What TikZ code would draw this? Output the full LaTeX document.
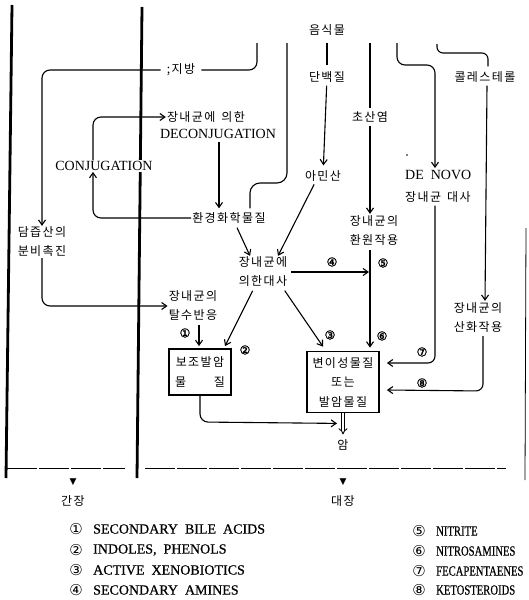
\documentclass[tikz,border=0pt]{standalone}
\usepackage{fontspec}
\setmainfont{Liberation Serif}
\newfontfamily\krf[LetterSpace=12]{Noto Sans CJK KR}
\newfontfamily\symf{DejaVu Sans}
\newfontfamily\symbf[FakeBold=2]{DejaVu Sans}
\newfontfamily\enl[FakeBold=0.6]{Liberation Serif}
\newfontfamily\enc[FakeStretch=0.76,FakeBold=0.6]{Liberation Serif}
\usetikzlibrary{arrows.meta,calc}
\begin{document}
\begin{tikzpicture}[x=1pt,y=-1pt,
  kr/.style={font=\krf\fontsize{12}{19}\selectfont, inner sep=1pt, align=center},
  en/.style={font=\fontsize{14}{16}\selectfont, inner sep=1pt},
  cnum/.style={font=\symbf\fontsize{12}{12}\selectfont, inner sep=0pt},
  lnum/.style={font=\symf\fontsize{15}{15}\selectfont, inner sep=0pt},
  leg/.style={font=\enl\fontsize{14}{16}\selectfont, inner sep=0pt, anchor=west},
  legc/.style={font=\enc\fontsize{14}{16}\selectfont, inner sep=0pt, anchor=west},
  ln/.style={line width=1.1pt},
  ar/.style={ln, -{Straight Barb[length=5pt,width=7pt]}},
  wall/.style={line width=2.8pt},
  bx/.style={draw, line width=1.8pt, inner sep=0pt, align=center},
  tri/.style={font=\symf\fontsize{9}{9}\selectfont, inner sep=0pt},
]
\useasboundingbox (0,0) rectangle (529,600);
% section walls
\draw[wall] (12,5) -- (6,478);
\draw[wall] (142,7) -- (137,478);
\draw[line width=0.8pt] (526,228) -- (525,480);
\draw[line width=0.6pt, dash pattern=on 30pt off 2pt] (7,468) -- (125,468);
\draw[line width=0.6pt, dash pattern=on 30pt off 2pt] (145,468) -- (506,468);
\node[tri] (t1) at (73,482) {▼};
\node[tri] (t2) at (343,482) {▼};
\node[kr] (liver) at (73,501) {간장};
\node[kr] (colon) at (343,501) {대장};

% nodes
\node[kr] (food) at (327,30) {음식물};
\node[kr, inner xsep=6pt] (fat) at (181,70) {;지방};
\node[kr] (protein) at (327,77) {단백질};
\node[kr] (nitrate) at (370,117) {초산염};
\node[kr] (chol) at (485,77) {콜레스테롤};
\node[kr] (amino) at (323,176) {아민산};
\node[kr] (bile) at (42,242) {담즙산의\\분비촉진};
\node[kr] (deconK) at (206,117) {장내균에\hspace{6pt}의한};
\node[en] (deconE) at (218,134) {DECONJUGATION};
\node[en, fill=white] (conj) at (104,166) {CONJUGATION};
\node[kr] (env) at (229,218) {환경화학물질};
\node[en, anchor=west] (denovoE) at (404,175) {DE\ \ NOVO};
\node[kr, anchor=west] (denovoK) at (404,197) {장내균\hspace{6pt}대사};
\node[kr] (reduct) at (374,231) {장내균의\\환원작용};
\node[kr] (oxid) at (478,318) {장내균의\\산화작용};
\node[kr] (metab) at (263,272) {장내균에\\의한대사};
\node[kr] (dehyd) at (193,306) {장내균의\\탈수반응};
\node[bx, minimum width=62pt, minimum height=46pt, font=\krf\fontsize{12}{20}\selectfont] (box1) at (200,372) {보조발암\\\makebox[50pt]{물\hfill 질}};
\node[bx, minimum width=72pt, minimum height=61pt, font=\krf\fontsize{12}{19.5}\selectfont] (box2) at (343,382) {변이성물질\\또는\\발암물질};
\node[kr] (cancer) at (343,445) {암};
\fill (407,155) circle (0.9pt);

% free ends at the food source
\coordinate (fA) at (257,43);
\coordinate (fB) at (287,43);
\coordinate (fC) at (370,43);
\coordinate (fD) at (397,43);
\coordinate (fE) at (437,44);

% connectors
\draw[ln, rounded corners=8pt] (fA) -- (fA |- fat.east) -- (fat.east);
\draw[ar, rounded corners=8pt] (fat.west) -- (fat.west -| bile.north) -- (bile.north);
\draw[ar, rounded corners=8pt] (bile.south) -- (bile.south |- dehyd.west) -- (dehyd.west);
\draw[ln, rounded corners=10pt] (fB) -- (287,183) -- (250,183) -- ($(env.north)+(21,-3)$);
\draw[ln, shorten <=6pt, shorten >=5pt] (food) -- (protein);
\draw[ar, shorten <=2pt, shorten >=4pt] (protein) -- (amino);
\draw[ln, shorten >=2pt] (fC) -- (nitrate.north -| fC);
\draw[ar, shorten <=2pt, shorten >=1pt] (nitrate.south) -- (nitrate.south |- reduct.north);
\draw[ar, rounded corners=8pt] (fD) -- (397,65) -- (435,65) -- ($(denovoE.north west)+(31,-1)$);
\draw[ar, rounded corners=7pt] ($(denovoK.south west)+(31,2)$) -- (435,363) -- ($(box2.east)+(7,-19)$);
\draw[ln, rounded corners=6pt] (fE) -- (437,53) -- (488,53) -- ($(chol.north)+(3,-4)$);
\draw[ar, shorten >=1pt] ($(chol.south)+(2,2)$) -- ($(oxid.north)+(7,0)$);
\draw[ar, rounded corners=7pt] ($(oxid.south)+(5,2)$) -- (483,391) -- ($(box2.east)+(7,8)$);
\draw[ar, rounded corners=8pt] ($(conj.north)+(-11,0)$) -- (93,117) -- (deconK.west);
\draw[ar, rounded corners=8pt] (env.west) -- (93,218) -- ($(conj.south)+(-11,0)$);
\draw[ar, shorten <=2pt] ($(deconE.south)+(1,0)$) -- ($(env.north)+(-10,-3)$);
\draw[ar] ($(env.south)+(8,3)$) -- ($(metab.north)+(-13,0)$);
\draw[ar, shorten <=2pt] ($(amino.south)+(-8,0)$) -- ($(metab.north)+(15,0)$);
\draw[ar, shorten <=3pt, shorten >=1pt] (metab.east) -- (metab.east -| nitrate.south);
\draw[ar, shorten <=3pt, shorten >=3pt] (reduct.south -| nitrate.south) -- (box2.north -| nitrate.south);
\draw[ar, shorten <=3pt] ($(metab.south)+(20,0)$) -- ($(box2.north)+(-20,-4)$);
\draw[ar, shorten <=3pt] ($(metab.south)+(-9,0)$) -- ($(box1.north)+(25,-2)$);
\draw[ar, shorten <=3pt] ($(dehyd.south)+(6,0)$) -- ($(box1.north)+(-1,-2)$);
\draw[ar, rounded corners=8pt] (box1.south) -- (200,422) -- ($(box2.south)+(-6,10)$);
\draw[double, double distance=2.2pt, line width=0.9pt, -{Implies}] (box2.south) -- ($(cancer.north)+(0,-4)$);

% circled numbers in the diagram
\node[cnum] (n1) at (185,333) {①};
\node[cnum] (n2) at (245,350) {②};
\node[cnum] (n3) at (330,335) {③};
\node[cnum] (n4) at (332,262) {④};
\node[cnum] (n5) at (383,263) {⑤};
\node[cnum] (n6) at (382,336) {⑥};
\node[cnum] (n7) at (422,352) {⑦};
\node[cnum] (n8) at (422,383) {⑧};

% legend
\node[lnum] (l1) at (76,529) {①};
\node[leg] (lt1) at (93,529) {SECONDARY\ \ BILE\ \ ACIDS};
\node[lnum] (l2) at (76,550) {②};
\node[leg] (lt2) at (93,550) {INDOLES,\ \ PHENOLS};
\node[lnum] (l3) at (76,570) {③};
\node[leg] (lt3) at (93,570) {ACTIVE\ \ XENOBIOTICS};
\node[lnum] (l4) at (76,590) {④};
\node[leg] (lt4) at (93,590) {SECONDARY\ \ AMINES};
\node[lnum] (l5) at (419,531) {⑤};
\node[legc] (lt5) at (436,531) {NITRITE};
\node[lnum] (l6) at (419,551) {⑥};
\node[legc] (lt6) at (436,551) {NITROSAMINES};
\node[lnum] (l7) at (419,571) {⑦};
\node[legc] (lt7) at (436,571) {FECAPENTAENES};
\node[lnum] (l8) at (419,590) {⑧};
\node[legc] (lt8) at (436,590) {KETOSTEROIDS};
\end{tikzpicture}
\end{document}
